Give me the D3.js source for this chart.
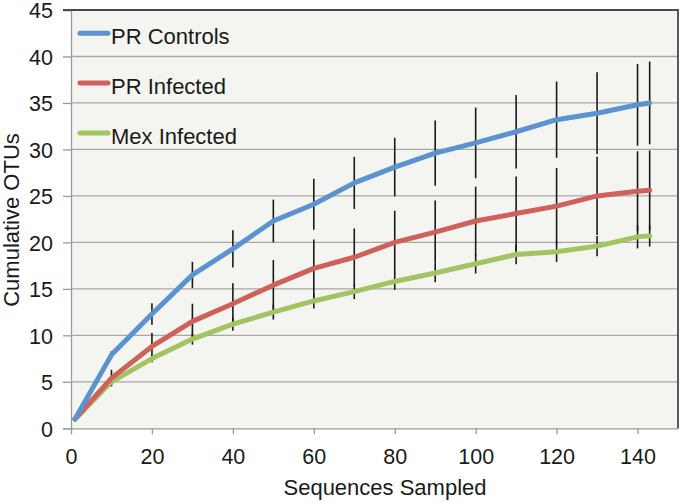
<!DOCTYPE html>
<html><head><meta charset="utf-8">
<script src="https://cdn.jsdelivr.net/npm/d3@7"></script>
<style>body{margin:0;background:#fff}svg{display:block}text{font-family:"Liberation Sans",Arial,sans-serif;fill:#1a1a1a}</style>
</head><body><svg id="c" width="680" height="503"></svg>
<script>
const xVals = [1,10,20,30,40,50,60,70,80,90,100,110,120,130,140,143];
const seriesNames = ["PR Controls","PR Infected","Mex Infected"];
const seriesColors = ["#5a93d0","#d0605a","#a3c462"];
const prControls = [1.0,7.9,12.3,16.5,19.3,22.3,24.1,26.4,28.1,29.6,30.7,31.9,33.2,33.9,34.8,35.0];
const prControlsErr = [0,0.4,1.15,1.4,2.0,2.3,2.75,2.8,3.15,3.5,3.8,3.95,4.1,4.4,4.4,4.45];
const prInfected = [1.0,5.4,8.8,11.5,13.4,15.4,17.2,18.4,20.0,21.1,22.3,23.1,23.9,25.0,25.5,25.6];
const prInfectedErr = [0,0.9,1.45,1.9,2.2,2.7,3.1,3.1,3.4,3.4,3.7,4.0,4.1,4.2,4.3,4.3];
const mexInfected = [1.0,5.0,7.5,9.6,11.2,12.5,13.7,14.7,15.8,16.7,17.7,18.7,19.0,19.6,20.6,20.7];
const mexInfectedErr = [0,0.3,0.4,0.6,0.7,0.8,0.8,0.8,0.9,1.0,1.05,1.05,1.1,1.1,1.25,1.15];
const xTicks = [0,20,40,60,80,100,120,140];
const yTicks = [0,5,10,15,20,25,30,35,40,45];

const values = [prControls, prInfected, mexInfected];
const errs = [prControlsErr, prInfectedErr, mexInfectedErr];

const svg = d3.select("#c");
const L=71, R=678, T=10, B=428.3;
const x = d3.scaleLinear().domain([0,150]).range([L,R]);
const y = d3.scaleLinear().domain([0,45]).range([B,T]);

svg.append("rect").attr("x",L).attr("y",T).attr("width",R-L).attr("height",B-T).attr("fill","#f4f4f0");

// gridlines
svg.append("g").selectAll("line").data(yTicks.filter(d=>d>0 && d<45)).join("line")
  .attr("x1",L).attr("x2",R).attr("y1",d=>y(d)).attr("y2",d=>y(d))
  .attr("stroke","#a8a8a8").attr("stroke-width",1.3);

// y axis
const ya = svg.append("g").attr("transform",`translate(${L},0)`)
  .call(d3.axisLeft(y).tickValues(yTicks).tickSize(8).tickPadding(10).tickFormat(d3.format("d")));
ya.select(".domain").attr("stroke","#9a9a9a").attr("stroke-width",1.3);
ya.selectAll(".tick line").attr("stroke","#9a9a9a").attr("stroke-width",1.3);
ya.selectAll(".tick text").attr("font-size",21.5).attr("dy","0.36em").style("font-family","Liberation Sans, Arial, sans-serif").attr("fill","#1a1a1a");

// x axis
const xa = svg.append("g").attr("transform",`translate(0,${B})`)
  .call(d3.axisBottom(x).tickValues(xTicks).tickSize(6).tickPadding(14).tickSizeOuter(0));
xa.select(".domain").attr("stroke","#9a9a9a").attr("stroke-width",1.3);
xa.selectAll(".tick line").attr("stroke","#9a9a9a").attr("stroke-width",1.3);
xa.selectAll(".tick text").attr("font-size",21.5).style("font-family","Liberation Sans, Arial, sans-serif").attr("fill","#1a1a1a");

// top & right border
svg.append("path").attr("d",`M${L-8},${T}H${R}V${B}`).attr("fill","none").attr("stroke","#4a4a4a").attr("stroke-width",1.8);

// error bars
values.forEach((vals,si)=>{
  svg.append("g").selectAll("line").data(vals.map((v,i)=>({x:xVals[i],v,e:errs[si][i]})).filter(d=>d.e>0)).join("line")
    .attr("x1",d=>x(d.x)).attr("x2",d=>x(d.x))
    .attr("y1",d=>y(d.v+d.e)).attr("y2",d=>y(d.v-d.e))
    .attr("stroke","#1a1a1a").attr("stroke-width",1.6);
});

// lines
const line = d3.line().x((d,i)=>x(xVals[i])).y(d=>y(d));
values.slice().reverse().forEach((vals,ri)=>{
  const si = values.length-1-ri;
  svg.append("path").attr("d",line(vals)).attr("fill","none")
    .attr("stroke",seriesColors[si]).attr("stroke-width",5).attr("stroke-linejoin","round").attr("stroke-linecap","round");
});

// legend
const lg = svg.append("g");
seriesNames.forEach((n,i)=>{
  const ly = 33.3 + i*49.8;
  lg.append("line").attr("x1",80).attr("x2",108).attr("y1",ly).attr("y2",ly)
    .attr("stroke",seriesColors[i]).attr("stroke-width",5).attr("stroke-linecap","round");
  lg.append("text").attr("x",111).attr("y",ly+11).attr("font-size",22).text(n);
});

// axis titles
svg.append("text").attr("x",385).attr("y",495).attr("text-anchor","middle").attr("font-size",22).text("Sequences Sampled");
svg.append("text").attr("transform","translate(19,220) rotate(-90)").attr("text-anchor","middle").attr("font-size",22).text("Cumulative OTUs");
</script></body></html>
